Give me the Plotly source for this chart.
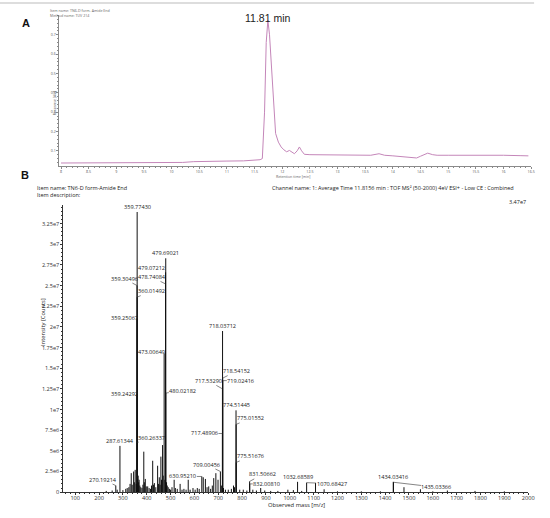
import plotly.graph_objects as go

# ---------- A: UV chromatogram (TUV 214) ----------
rt_min = [8.0, 8.5, 9.0, 9.5, 10.0, 10.2, 10.4, 10.6, 10.7, 11.0, 11.3, 11.5, 11.6,
          11.64, 11.68, 11.71, 11.74, 11.77, 11.81, 11.85, 11.88, 11.93, 11.98, 12.03,
          12.08, 12.13, 12.18, 12.22, 12.27, 12.31, 12.35, 12.40, 12.5, 12.8, 13.0,
          13.3, 13.6, 13.75, 13.85, 14.0, 14.3, 14.43, 14.5, 14.63, 14.72, 14.8, 15.0,
          15.4, 15.6, 15.7, 16.0, 16.3, 16.45]
absorb_au = [0.037, 0.037, 0.038, 0.038, 0.039, 0.040, 0.044, 0.046, 0.045, 0.047, 0.048,
             0.050, 0.054, 0.060, 0.30, 0.66, 0.775, 0.70, 0.50, 0.28, 0.19, 0.145, 0.12,
             0.105, 0.095, 0.102, 0.090, 0.085, 0.100, 0.120, 0.100, 0.082, 0.080, 0.079,
             0.081, 0.079, 0.077, 0.085, 0.077, 0.074, 0.068, 0.063, 0.072, 0.088, 0.080,
             0.077, 0.077, 0.077, 0.079, 0.076, 0.077, 0.075, 0.074]
au_ticks = [0.1, 0.2, 0.3, 0.4, 0.5, 0.6, 0.7]
apex_rt = 11.74
apex_text = "11.81 min"

# ---------- B: combined MS spectrum ----------
label_mz = [359.77430, 359.30496, 360.01492, 359.25067, 359.24292, 360.26337,
            287.61344, 270.19214, 479.07212, 478.74084, 473.00649, 479.69021,
            480.02182, 718.03712, 718.54152, 719.02416, 717.53290, 717.48906,
            774.51445, 775.01552, 775.51676, 709.00456, 630.95210, 831.50662,
            832.00810, 1032.68589, 1070.68427, 1434.03416, 1435.03366]
label_counts = [3.39e7, 2.50e7, 2.36e7, 2.10e7, 1.19e7, 0.60e7,
                0.56e7, 0.08e7, 2.66e7, 2.52e7, 1.68e7, 2.83e7,
                1.20e7, 1.95e7, 1.38e7, 1.35e7, 1.25e7, 0.71e7,
                0.99e7, 0.82e7, 0.36e7, 0.25e7, 0.19e7, 0.13e7,
                0.10e7, 0.125e7, 0.115e7, 0.125e7, 0.12e7]
other_mz = [230, 255, 276, 300, 312, 318, 325, 330, 335, 339, 345, 348, 351.5, 356,
            362, 364, 366, 368, 371, 375, 380, 384, 387.6, 390, 394, 398, 404, 410,
            416, 420, 425, 428, 432, 438, 445.6, 449, 452.6, 456, 459.4, 462, 466.4,
            469, 476, 483, 486, 490, 495, 500, 506, 515, 520, 528, 540, 548, 556, 565,
            574, 582, 594, 603, 612, 620, 637, 646, 653, 660, 668, 675, 681, 690, 699,
            713, 722, 730, 742, 755, 764, 768, 790, 805, 820, 845, 860, 878, 895, 920,
            950, 992, 1015, 1050, 1108, 1144, 1200, 1300, 1380, 1479, 1548, 1600,
            1661, 1777, 1900]
other_counts = [0.15e6, 0.2e6, 0.3e6, 0.25e6, 0.4e6, 0.5e6, 0.6e6, 1.0e6, 2.3e6, 0.9e6,
                2.5e6, 1.2e6, 2.7e6, 1.0e6, 1.6e6, 2.0e6, 1.2e6, 1.5e6, 0.8e6, 0.6e6,
                0.5e6, 0.9e6, 4.9e6, 1.2e6, 1.6e6, 0.7e6, 0.7e6, 0.5e6, 0.4e6, 0.8e6,
                3.8e6, 0.9e6, 1.1e6, 0.6e6, 3.2e6, 1.0e6, 1.8e6, 0.9e6, 4.3e6, 1.5e6,
                5.7e6, 2.0e6, 1.5e6, 1.2e6, 0.8e6, 0.6e6, 0.4e6, 0.3e6, 0.6e6, 1.5e6,
                0.5e6, 0.4e6, 1.0e6, 0.3e6, 0.4e6, 0.3e6, 1.5e6, 0.3e6, 0.5e6, 0.3e6,
                0.5e6, 0.4e6, 1.8e6, 1.6e6, 0.6e6, 0.7e6, 0.4e6, 0.8e6, 1.7e6, 2.3e6,
                1.5e6, 0.8e6, 0.5e6, 0.3e6, 0.3e6, 0.4e6, 0.8e6, 0.6e6, 0.3e6, 0.3e6,
                0.2e6, 0.3e6, 0.2e6, 0.5e6, 0.2e6, 0.15e6, 0.15e6, 0.3e6, 0.25e6,
                0.15e6, 1.1e6, 0.35e6, 0.1e6, 0.1e6, 0.1e6, 0.6e6, 0.35e6, 0.1e6,
                0.2e6, 0.15e6, 0.1e6]
int_tickvals = [0, 2.5e6, 5e6, 7.5e6, 1e7, 1.25e7, 1.5e7, 1.75e7, 2e7, 2.25e7, 2.5e7,
                2.75e7, 3e7, 3.25e7]
int_ticktext = ["0", "2.5e6", "5e6", "7.5e6", "1e7", "1.25e7", "1.5e7", "1.75e7", "2e7",
                "2.25e7", "2.5e7", "2.75e7", "3e7", "3.25e7"]
max_counts = 3.47e7

# label placement (pixel offset of text from peak top); None = straight above
label_shift = [None, (-13, -7), (14, -6), (-13, -1), (-13, 0), (14, -5),
               None, (-13, -6), (-14, -4), (-14, -7), (-13, -1), None,
               (17, -2), None, (14, -7), (18, 0), (-14, -8), (-18, 0),
               None, (14, -6), (14, -6), (-14, -7), (-19, 0), (13, -7),
               (17, 0), None, (25, 1), None, (43, 5)]

W, H = 550, 518
top_px = (60, 537, 15, 167)
bot_px = (64, 534, 207, 496)


def dom(px):
    return [px[0] / W, px[1] / W], [1 - px[3] / H, 1 - px[2] / H]


tx, ty = dom(top_px)
bx, by = dom(bot_px)

xs, ys = [], []
for m, c in zip(list(other_mz) + label_mz, list(other_counts) + label_counts):
    xs += [m, m, None]
    ys += [0, c, None]

fig = go.Figure()
fig.add_trace(go.Scatter(x=rt_min, y=absorb_au, mode="lines",
                         line=dict(color="#c486b9", width=1), xaxis="x", yaxis="y",
                         hoverinfo="skip"))
fig.add_trace(go.Scatter(x=xs, y=ys, mode="lines", line=dict(color="#111111", width=1),
                         xaxis="x2", yaxis="y2", hoverinfo="skip"))

small = dict(family="Open Sans", size=3.6, color="#666666")
lab = dict(family="Open Sans", size=5.6, color="#222222")
head = dict(family="Open Sans", size=5.5, color="#222222")

ann = []
for m, c, sh in zip(label_mz, label_counts, label_shift):
    txt = f"{m:.5f}"
    if sh is None:
        ann.append(dict(x=m, y=c, xref="x2", yref="y2", text=txt, showarrow=False,
                        yanchor="bottom", yshift=0, font=lab, borderpad=0))
    else:
        ann.append(dict(x=m, y=c, xref="x2", yref="y2", text=txt, showarrow=True,
                        arrowhead=0, arrowwidth=0.6, arrowcolor="#333333",
                        ax=sh[0] * 1.0, ay=sh[1] * 1.0, font=lab, borderpad=0,
                        standoff=0))

ann += [
    dict(x=apex_rt, y=1 - 10 / H, xref="x", yref="paper", text=apex_text,
         showarrow=False, font=dict(family="Liberation Sans", size=10.5, color="#222222")),
    dict(x=20 / W, y=1 - 15 / H, xref="paper", yref="paper", text="<b>A</b>",
         showarrow=False, font=dict(family="Liberation Sans", size=11, color="#111111")),
    dict(x=19 / W, y=1 - 176 / H, xref="paper", yref="paper", text="<b>B</b>",
         showarrow=False, font=dict(family="Liberation Sans", size=11, color="#111111")),
    dict(x=49 / W, y=1 - 6 / H, xref="paper", yref="paper", xanchor="left",
         text="Item name: TN6-D form- Amide End", showarrow=False, font=small),
    dict(x=49 / W, y=1 - 11 / H, xref="paper", yref="paper", xanchor="left",
         text="Method name: TUV 214", showarrow=False, font=small),
    dict(x=50 / W, y=1 - 90 / H, xref="paper", yref="paper", textangle=-90,
         text="Response [AU]", showarrow=False, font=small),
    dict(x=296 / W, y=1 - 178 / H, xref="paper", yref="paper",
         text="Retention time [min]", showarrow=False, font=small),
    dict(x=35 / W, y=1 - 189.5 / H, xref="paper", yref="paper", xanchor="left",
         text="Item name: TN6-D form-Amide End", showarrow=False, font=head),
    dict(x=35 / W, y=1 - 196.5 / H, xref="paper", yref="paper", xanchor="left",
         text="Item description:", showarrow=False, font=head),
    dict(x=522 / W, y=1 - 189.5 / H, xref="paper", yref="paper", xanchor="right",
         text="Channel name: 1: Average Time 11.8156 min : TOF MS² (50-2000) 4eV ESI+ - Low CE : Combined",
         showarrow=False, font=head),
    dict(x=534 / W, y=1 - 204 / H, xref="paper", yref="paper", xanchor="right",
         text="3.47e7", showarrow=False, font=head),
    dict(x=38 / W, y=1 - 351 / H, xref="paper", yref="paper", textangle=-90,
         text="Intensity [Counts]", showarrow=False,
         font=dict(family="Open Sans", size=5.8, color="#222222")),
    dict(x=300 / W, y=1 - 514.5 / H, xref="paper", yref="paper",
         text="Observed mass [m/z]", showarrow=False,
         font=dict(family="Open Sans", size=5.8, color="#222222")),
]

axis_top = dict(showgrid=False, zeroline=False, showline=True, linecolor="#8a8a8a",
                linewidth=0.8, ticks="outside", ticklen=2, tickcolor="#8a8a8a",
                tickwidth=0.6, tickfont=dict(family="Open Sans", size=3.6, color="#555555"))
axis_bot = dict(showgrid=False, zeroline=False, showline=True, linecolor="#333333",
                linewidth=0.8, ticks="outside", ticklen=2, tickcolor="#333333",
                tickwidth=0.7, tickfont=dict(family="Open Sans", size=5.6, color="#333333"))

fig.update_layout(
    width=W, height=H, margin=dict(l=0, r=0, t=0, b=0),
    paper_bgcolor="white", plot_bgcolor="white", showlegend=False,
    xaxis=dict(axis_top, domain=tx, range=[7.97, 16.5], anchor="y", tick0=8, dtick=0.5,
               minor=dict(ticks="outside", ticklen=1.2, dtick=0.1, tickcolor="#8a8a8a")),
    yaxis=dict(axis_top, domain=ty, range=[0.023, 0.803], anchor="x", tickvals=au_ticks,
               minor=dict(ticks="outside", ticklen=1.2, dtick=0.02, tickcolor="#8a8a8a")),
    xaxis2=dict(axis_bot, domain=bx, range=[50, 2000], anchor="y2", tick0=0, dtick=100,
                ticklabelstandoff=-2,
                minor=dict(ticks="outside", ticklen=1.2, dtick=20, tickcolor="#333333")),
    yaxis2=dict(axis_bot, domain=by, range=[0, max_counts], anchor="x2",
                tickvals=int_tickvals, ticktext=int_ticktext,
                minor=dict(ticks="outside", ticklen=1.2, dtick=5e5, tickcolor="#333333")),
    annotations=ann,
    shapes=[dict(type="line", xref="paper", yref="paper", x0=0, x1=540 / W,
                 y0=1 - 3 / H, y1=1 - 3 / H, line=dict(color="#dddddd", width=2))],
)

# drop the default page margin so the figure sits at the window's corner
fig.write_html("out.html", config={"displayModeBar": False},
               post_script="document.body.style.margin='0';")
